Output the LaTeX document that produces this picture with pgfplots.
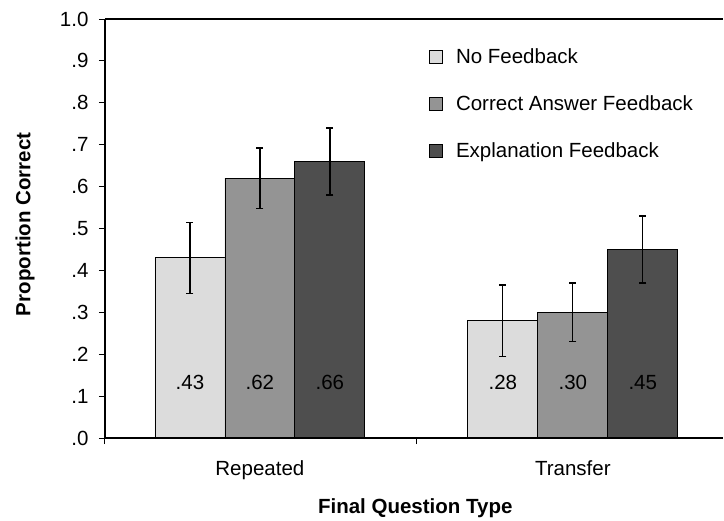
\documentclass[border=0pt]{standalone}
\usepackage{fontspec}
\setmainfont{Liberation Sans}
\usepackage{pgfplots}
\pgfplotsset{compat=1.18}
\definecolor{nofb}{RGB}{220,220,220}
\definecolor{cafb}{RGB}{148,148,148}
\definecolor{exfb}{RGB}{78,78,78}
\newcommand\fs{\fontsize{20.5pt}{24pt}\selectfont}
\pgfplotsset{ebar/.style={
  error bars/y dir=both, error bars/y explicit,
  error bars/error bar style={line width=1.3pt, black},
  error bars/error mark options={rotate=90, mark size=3.5pt, line width=1.3pt, black}}}
\begin{document}
\begin{tikzpicture}
\begin{axis}[
  name=ax,
  scale only axis,
  width=618pt, height=419pt,
  xmin=-0.495, xmax=1.48,
  ymin=0, ymax=1,
  axis x line=box, axis y line*=left,
  axis on top,
  axis line style={line width=1.2pt, black},
  tick align=outside,
  major tick length=6pt,
  tick style={line width=1pt, black},
  xtick pos=left, ytick pos=left,
  xtick={0,1},
  xticklabels={Repeated,Transfer},
  xtick style={draw=none},
  extra x ticks={-0.495,0.5},
  extra x tick labels={},
  extra x tick style={xtick style={draw=black}},
  ytick={0,0.1,0.2,0.3,0.4,0.5,0.6,0.7,0.8,0.9,1.0},
  yticklabels={.0,.1,.2,.3,.4,.5,.6,.7,.8,.9,1.0},
  minor tick num=0,
  ticklabel style={font=\fs},
  yticklabel style={xshift=-7pt},
  xticklabel style={yshift=-13pt},
  xlabel={\textbf{Final Question Type}},
  ylabel={\textbf{Proportion Correct}},
  label style={font=\fs},
  xlabel style={at={(axis description cs:0.502,-0.167)}, anchor=center},
  ylabel style={at={(axis description cs:-0.1295,0.51)}, anchor=center},
  legend style={draw=none, fill=none, font=\fs,
    at={(rel axis cs:0.5245,0.93)}, anchor=north west,
    inner sep=0pt, row sep=30.5pt, column sep=0pt,
    nodes={inner sep=0pt, anchor=west}},
  legend cell align=left,
  legend image code/.code={\draw[#1, draw=black, line width=0.6pt] (0pt,-6.5pt) rectangle (13pt,6.5pt); \path (26pt,0pt);},
]
\addplot[fill=nofb, draw=black, line width=0.8pt, ybar, bar width=0.2236, bar shift=0, ebar]
  coordinates {(-0.2236,0.43) +- (0,0.085) (0.7764,0.28) +- (0,0.085)};
\addlegendentry{No Feedback}
\addplot[fill=cafb, draw=black, line width=0.8pt, ybar, bar width=0.2236, bar shift=0, ebar]
  coordinates {(0,0.62) +- (0,0.072) (1,0.30) +- (0,0.07)};
\addlegendentry{Correct Answer Feedback}
\addplot[fill=exfb, draw=black, line width=0.8pt, ybar, bar width=0.2236, bar shift=0, ebar]
  coordinates {(0.2236,0.66) +- (0,0.08) (1.2236,0.45) +- (0,0.08)};
\addlegendentry{Explanation Feedback}
\addplot[draw=none, mark=none, forget plot,
  nodes near coords, point meta=explicit symbolic,
  nodes near coords style={anchor=center, font=\fs, text=black}]
  table[meta=lab] {
x y lab
-0.2236 0.132 .43
0 0.132 .62
0.2236 0.132 .66
0.7764 0.132 .28
1 0.132 .30
1.2236 0.132 .45
};
\end{axis}
\pgfresetboundingbox
\path[use as bounding box] ([xshift=-105pt,yshift=-82pt]ax.south west) rectangle ([xshift=1pt,yshift=19pt]ax.north east);
\end{tikzpicture}
\end{document}
